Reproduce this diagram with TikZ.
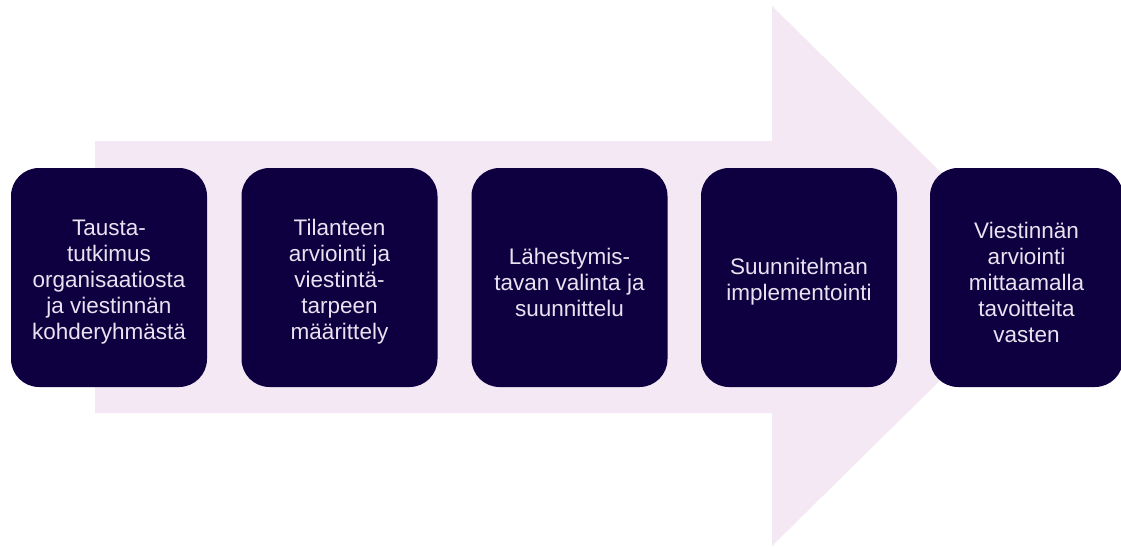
\documentclass[tikz,border=0pt]{standalone}
\usepackage{fontspec}
\setmainfont{Liberation Sans}
\definecolor{arrowfill}{HTML}{F3E8F3}
\definecolor{stepfill}{HTML}{0E0040}
\definecolor{steptext}{HTML}{E9E2F0}
\tikzset{
  stepbox/.style={fill=stepfill, rounded corners=28pt, minimum width=196pt,
    minimum height=219pt, inner sep=0pt},
  steplabel/.style={inner sep=0pt, align=center, text=steptext,
    font=\fontsize{22.5pt}{26pt}\selectfont}
}
\begin{document}
\begin{tikzpicture}[x=1pt,y=-1pt]
  \useasboundingbox (0,0) rectangle (1121,546);
  \clip (0,0) rectangle (1121,546);
  % broad background arrow
  \fill[arrowfill] (95,141) -- (772,141) -- (772,6) -- (1046,276)
    -- (772,546) -- (772,413) -- (95,413) -- cycle;
  % process steps
  \node[stepbox] (s1) at (109,277.5) {};
  \node[stepbox] (s2) at (339.5,277.5) {};
  \node[stepbox] (s3) at (569.5,277.5) {};
  \node[stepbox] (s4) at (799,277.5) {};
  \node[stepbox, minimum width=193pt] (s5) at (1026.5,277.5) {};
  % step captions
  \node[steplabel] (t1) at ([yshift=-4.5pt]s1.center) {Tausta-\\tutkimus\\organisaatiosta\\ja viestinnän\\kohderyhmästä};
  \node[steplabel] (t2) at ([yshift=-4.5pt]s2.center) {Tilanteen\\arviointi ja\\viestintä-\\tarpeen\\määrittely};
  \node[steplabel] (t3) at ([yshift=-4.5pt]s3.center) {Lähestymis-\\tavan valinta ja\\suunnittelu};
  \node[steplabel] (t4) at ([yshift=-4.5pt]s4.center) {Suunnitelman\\implementointi};
  \node[steplabel] (t5) at ([yshift=-4.5pt]s5.center) {Viestinnän\\arviointi\\mittaamalla\\tavoitteita\\vasten};
\end{tikzpicture}
\end{document}
